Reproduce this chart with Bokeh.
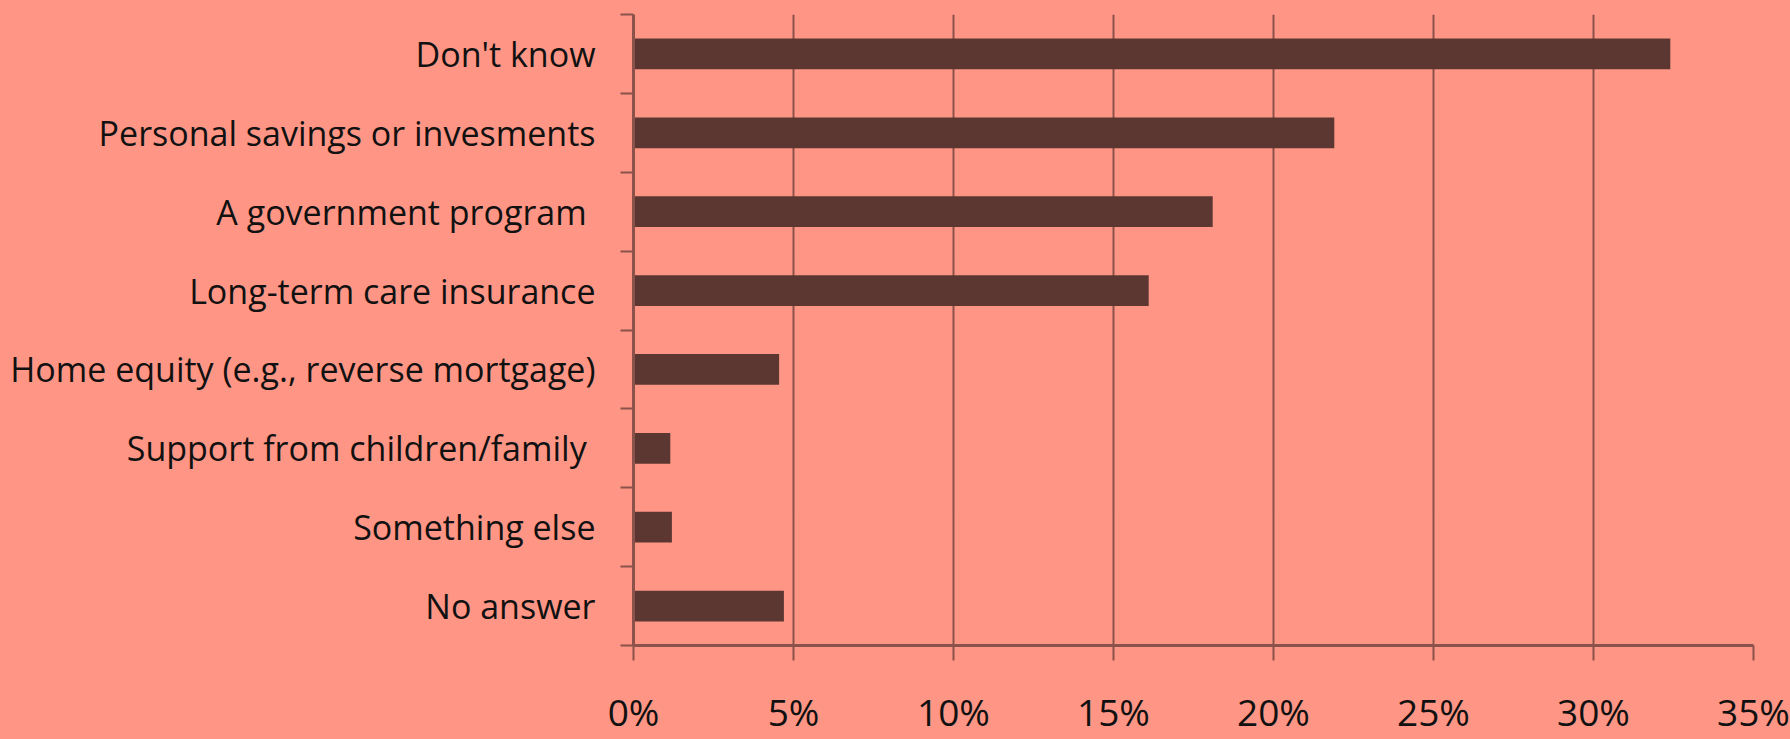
from bokeh.plotting import figure
from bokeh.models import Range1d, FixedTicker, LinearAxis
from bokeh.embed import file_html
from bokeh.resources import INLINE

categories = ["Don't know", "Personal savings or invesments", "A government program ",
              "Long-term care insurance", "Home equity (e.g., reverse mortgage)",
              "Support from children/family ", "Something else", "No answer"]
values = [32.4, 21.9, 18.1, 16.1, 4.55, 1.15, 1.2, 4.7]
x_ticks = [0, 5, 10, 15, 20, 25, 30, 35]

BG = "#FF9685"
BAR = "#5C3731"
GRID = "#8A524A"
FONT = "Open Sans"

pos = [i + 0.5 for i in range(len(categories))]
bounds = [i for i in range(len(categories) + 1)]

p = figure(width=1790, height=739, output_backend="svg", toolbar_location=None,
           x_range=Range1d(0, 35), y_range=Range1d(len(categories), 0),
           x_axis_location=None, y_axis_location=None,
           min_border_left=633, min_border_right=37, min_border_top=14, min_border_bottom=86)
p.background_fill_color = BG
p.border_fill_color = BG
p.outline_line_color = None

p.hbar(y=pos, left=0, right=values, height=0.39,
       fill_color=BAR, line_color=None)

xaxis = LinearAxis(ticker=FixedTicker(ticks=x_ticks))
xaxis.major_label_overrides = {t: f"{t}%" for t in x_ticks}
xaxis.axis_line_color = GRID
xaxis.axis_line_width = 3
xaxis.major_tick_line_color = GRID
xaxis.major_tick_line_width = 2
xaxis.major_tick_out = 15
xaxis.major_tick_in = 0
xaxis.minor_tick_line_color = None
xaxis.major_label_text_font = FONT
xaxis.major_label_text_font_size = "37px"
xaxis.major_label_text_color = "#111111"
xaxis.major_label_standoff = 25
p.add_layout(xaxis, "below")

yaxis = LinearAxis(ticker=FixedTicker(ticks=pos, minor_ticks=bounds))
yaxis.major_label_overrides = {pp: c for pp, c in zip(pos, categories)}
yaxis.axis_line_color = GRID
yaxis.axis_line_width = 3
yaxis.major_tick_line_color = None
yaxis.major_tick_out = 13
yaxis.minor_tick_line_color = GRID
yaxis.minor_tick_line_width = 2
yaxis.minor_tick_out = 13
yaxis.minor_tick_in = 0
yaxis.major_label_text_font = FONT
yaxis.major_label_text_font_size = "34px"
yaxis.major_label_text_color = "#111111"
yaxis.major_label_standoff = 25
p.add_layout(yaxis, "left")

p.xgrid.grid_line_color = GRID
p.xgrid.grid_line_width = 2
p.xgrid.ticker = FixedTicker(ticks=x_ticks)
p.ygrid.grid_line_color = None

html = file_html(p, INLINE)
html = html.replace("</head>", "<style>html, body { background-color: #FF9685; }</style></head>", 1)
open("out.html", "w").write(html)
